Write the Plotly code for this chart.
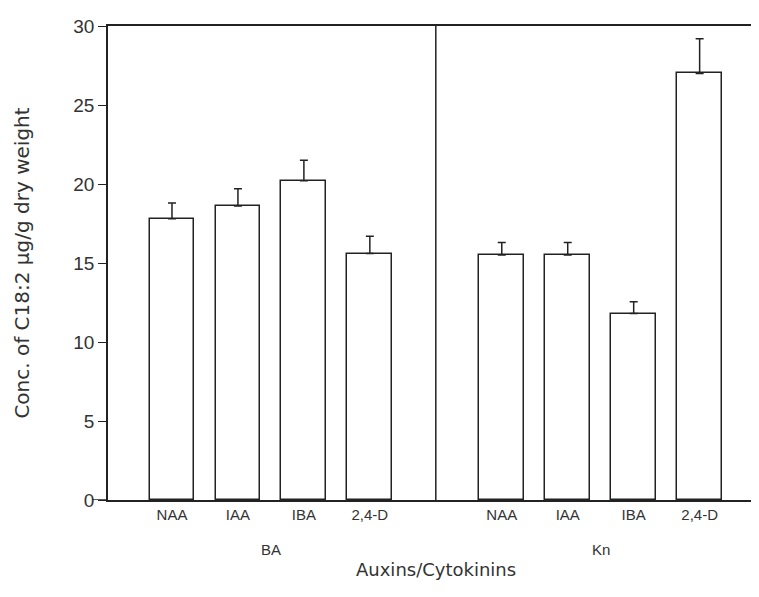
import plotly.graph_objects as go

auxins = ["NAA", "IAA", "IBA", "2,4-D"]
cytokinins = ["BA", "Kn"]
ba_values = [17.8, 18.6, 20.2, 15.6]
ba_errors = [1.0, 1.1, 1.3, 1.1]
kn_values = [15.5, 15.5, 11.8, 27.0]
kn_errors = [0.8, 0.8, 0.75, 2.2]
y_ticks = [0, 5, 10, 15, 20, 25, 30]

ba_x = [0, 1, 2, 3]
kn_x = [5, 6, 7, 8]
divider_x = 4

line_col = "#222222"
text_col = "#333333"
font_fam = "Liberation Sans, Arial, sans-serif"
wide_fam = "DejaVu Sans, Verdana, sans-serif"

fig = go.Figure()
for xs, vals, errs in [(ba_x, ba_values, ba_errors), (kn_x, kn_values, kn_errors)]:
    fig.add_trace(go.Bar(
        x=xs, y=vals, width=0.68,
        marker=dict(color="white", line=dict(color=line_col, width=1.5)),
        error_y=dict(type="data", array=errs, arrayminus=[0] * len(errs),
                     symmetric=False, color=line_col, thickness=1.5, width=4),
        showlegend=False, hoverinfo="y",
    ))

fig.add_shape(type="line", xref="x", yref="y", x0=divider_x, x1=divider_x, y0=0, y1=30,
              line=dict(color=line_col, width=1.5))
fig.add_shape(type="line", xref="paper", yref="y", x0=-0.024, x1=0, y0=0, y1=0,
              line=dict(color=line_col, width=1.5))

fig.add_annotation(x=sum(ba_x) / 4, y=-0.126, xref="x", yref="paper", text=cytokinins[0],
                   showarrow=False, font=dict(size=15, color=text_col, family=font_fam))
fig.add_annotation(x=sum(kn_x) / 4, y=-0.126, xref="x", yref="paper", text=cytokinins[1],
                   showarrow=False, font=dict(size=15, color=text_col, family=font_fam))
fig.add_annotation(x=divider_x, y=-0.174, xref="x", yref="paper", text="Auxins/Cytokinins",
                   showarrow=False, font=dict(size=18, color=text_col, family=wide_fam))

fig.update_layout(
    width=759, height=597,
    margin=dict(l=100, r=8, t=14, b=105),
    paper_bgcolor="white", plot_bgcolor="white",
    bargap=0,
    xaxis=dict(
        range=[-0.97, 8.9],
        tickvals=ba_x + kn_x, ticktext=auxins + auxins,
        ticks="", showgrid=False, zeroline=False,
        showline=True, mirror=True, linecolor=line_col, linewidth=1.5,
        tickfont=dict(size=15, color=text_col, family=font_fam),
    ),
    yaxis=dict(
        range=[0, 30], tickvals=y_ticks,
        ticks="outside", ticklen=8, tickcolor=line_col, tickwidth=1.2,
        showgrid=False, zeroline=False,
        showline=True, linecolor=line_col, linewidth=1.5,
        tickfont=dict(size=19, color=text_col, family=font_fam),
        title=dict(text="Conc. of C18:2 µg/g dry weight", standoff=38,
                   font=dict(size=20, color=text_col, family=wide_fam)),
    ),
)

fig.write_html("out.html")
